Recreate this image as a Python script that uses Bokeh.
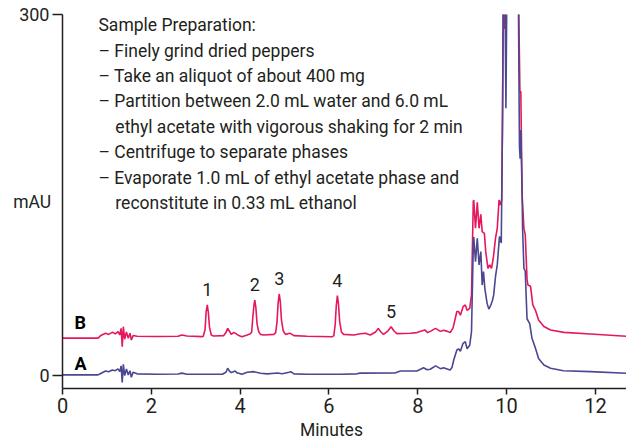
from bokeh.plotting import figure
from bokeh.models import Range1d, FixedTicker, Label
from bokeh.embed import file_html
from bokeh.resources import INLINE
from bokeh.core.properties import value

# Trace A (dark blue): retention time in minutes and absorbance in mAU
minutes_a = [0.00, 0.80, 0.86, 0.97, 1.04, 1.12, 1.19, 1.25, 1.29, 1.32, 1.345, 1.37,
             1.40, 1.44, 1.48, 1.52, 1.55, 1.59, 1.68, 2.13, 2.60, 2.69, 2.80, 3.60,
             3.68, 3.72, 3.76, 3.80, 3.85, 3.89, 3.93, 3.97, 4.04, 4.16, 4.31, 4.46,
             4.61, 4.84, 4.95, 5.10, 5.14, 5.21, 5.51, 6.26, 6.63, 6.70, 7.50, 7.61,
             7.98, 8.13, 8.21, 8.28, 8.40, 8.51, 8.58, 8.66, 8.73, 8.77, 8.81, 8.88,
             8.92, 8.96, 9.02, 9.07, 9.11, 9.17, 9.21, 9.25, 9.26, 9.30, 9.34, 9.38,
             9.42, 9.45, 9.48, 9.51, 9.56, 9.60, 9.64, 9.68, 9.71, 9.75, 9.79, 9.84,
             9.88, 9.905, 9.93, 9.96, 9.985, 10.01, 10.26, 10.29, 10.305, 10.32, 10.35,
             10.36, 10.39, 10.42, 10.46, 10.52, 10.57, 10.65, 10.72, 10.84, 10.99,
             11.28, 11.89, 12.70]
mau_a = [0.3, 0.3, 1.5, 3.6, 3.0, 4.4, 3.8, 5.3, 3.0, 7.8, -6.0, 9.1,
         -0.3, 5.3, 0.3, 3.8, -1.7, 2.5, 1.2, 0.8, 1.0, 1.8, 0.9, 0.8,
         2.5, 5.8, 3.5, 2.2, 3.0, 3.6, 2.0, 1.7, 0.8, 2.5, 3.0, 1.7,
         1.2, 1.9, 1.2, 2.5, 3.0, 1.2, 0.8, 0.8, 1.2, 1.8, 2.0, 3.6,
         3.6, 6.3, 4.6, 5.0, 7.8, 5.5, 6.3, 5.3, 4.4, 6.5, 12.7, 21.0,
         22.0, 20.0, 26.6, 28.0, 22.0, 25.0, 36.4, 108.0, 115.0, 94.5, 113.9, 91.7,
         102.8, 75.0, 86.2, 72.3, 60.0, 55.0, 58.0, 62.0, 67.0, 82.0, 92.0, 115.5,
         110.0, 200.0, 340.0, 340.0, 222.0, 340.0, 340.0, 190.0, 180.0, 204.0, 150.0,
         122.0, 89.0, 86.5, 47.0, 43.0, 31.0, 22.4, 14.0, 8.6, 5.8,
         3.8, 3.0, 1.7]

# Trace B (pink): retention time in minutes and absorbance in mAU
minutes_b = [0.00, 0.80, 0.86, 0.97, 1.04, 1.12, 1.19, 1.25, 1.29, 1.32, 1.345, 1.37,
             1.40, 1.44, 1.48, 1.52, 1.55, 1.59, 1.68, 2.13, 2.60, 2.69, 2.80, 3.14,
             3.17, 3.21, 3.235, 3.26, 3.285, 3.31, 3.35, 3.40, 3.63, 3.68, 3.72, 3.77,
             3.80, 3.85, 3.89, 3.93, 3.97, 4.04, 4.16, 4.23, 4.26, 4.285, 4.31, 4.33,
             4.355, 4.38, 4.42, 4.46, 4.53, 4.76, 4.80, 4.83, 4.855, 4.88, 4.905, 4.93,
             4.97, 5.02, 5.12, 5.21, 5.51, 6.07, 6.11, 6.14, 6.165, 6.19, 6.215, 6.24,
             6.28, 6.33, 6.56, 6.71, 6.82, 6.93, 7.05, 7.11, 7.17, 7.23, 7.33, 7.40,
             7.46, 7.53, 7.83, 7.98, 8.16, 8.22, 8.28, 8.40, 8.51, 8.58, 8.67, 8.73,
             8.79, 8.81, 8.88, 8.92, 8.96, 9.02, 9.07, 9.11, 9.17, 9.21, 9.25, 9.26,
             9.30, 9.34, 9.38, 9.42, 9.45, 9.50, 9.53, 9.58, 9.62, 9.66, 9.70, 9.75,
             9.79, 9.83, 9.86, 9.89, 9.91, 9.93, 9.95, 9.96, 9.97, 10.26, 10.30, 10.32,
             10.35, 10.39, 10.42, 10.46, 10.48, 10.54, 10.59, 10.65, 10.72, 10.84,
             10.99, 11.29, 11.89, 12.70]
mau_b = [30.9, 30.9, 33.0, 34.9, 34.0, 35.7, 34.5, 36.3, 33.5, 39.0, 23.8, 40.4,
         30.0, 36.0, 30.7, 35.0, 29.3, 33.0, 32.4, 32.2, 32.4, 33.5, 32.6, 32.1,
         32.5, 38.0, 53.0, 58.5, 52.0, 40.0, 33.5, 32.7, 33.0, 35.5, 39.0, 36.0,
         34.0, 35.5, 35.0, 34.0, 33.0, 32.0, 33.5, 34.5, 36.0, 48.0, 58.0, 62.6,
         56.0, 43.0, 36.0, 34.0, 33.5, 34.0, 35.5, 44.0, 60.0, 67.6, 61.0, 46.0,
         37.0, 34.0, 35.0, 33.0, 32.4, 32.0, 33.0, 42.0, 58.0, 66.2, 59.0, 45.0,
         36.0, 34.0, 33.5, 34.5, 35.0, 33.5, 36.0, 39.0, 36.0, 34.0, 37.0, 40.3,
         37.0, 34.6, 35.0, 35.5, 37.7, 35.5, 36.5, 39.0, 36.5, 37.5, 36.5, 35.6,
         39.0, 41.8, 53.0, 53.0, 50.0, 57.0, 58.5, 54.0, 55.7, 66.8, 144.6, 145.7,
         122.2, 143.8, 122.2, 133.8, 119.4, 118.0, 102.8, 88.9, 91.7, 88.9, 97.3, 113.9,
         122.2, 145.7, 141.6, 145.7, 220.0, 340.0, 340.0, 288.0, 340.0, 340.0, 236.0, 236.0,
         150.0, 122.0, 117.0, 80.0, 75.0, 74.0, 58.5, 54.0, 46.0, 40.5,
         37.7, 35.7, 34.3, 32.4]

# Numbered peaks on trace B
peak_numbers = ["1", "2", "3", "4", "5"]
peak_minutes = [3.26, 4.33, 4.88, 6.19, 7.40]
peak_mau = [58.5, 62.6, 67.6, 66.2, 40.3]

x_ticks = [0, 2, 4, 6, 8, 10, 12]
y_ticks = [0, 300]

prep_lines = [
    "Sample Preparation:",
    "\u2013 Finely grind dried peppers",
    "\u2013 Take an aliquot of about 400 mg",
    "\u2013 Partition between 2.0 mL water and 6.0 mL",
    "ethyl acetate with vigorous shaking for 2 min",
    "\u2013 Centrifuge to separate phases",
    "\u2013 Evaporate 1.0 mL of ethyl acetate phase and",
    "reconstitute in 0.33 mL ethanol",
]

FONT = "Roboto"
INK = "#231f20"
PINK = "#e5185d"
BLUE = "#4a4890"

p = figure(width=626, height=442, output_backend="svg", toolbar_location=None,
           title=None,
           x_range=Range1d(0, 12.7), y_range=Range1d(-11, 300),
           min_border_left=62, min_border_right=0,
           min_border_top=14, min_border_bottom=52)
p.xgrid.visible = False
p.ygrid.visible = False
p.outline_line_color = None
p.background_fill_color = "white"
p.border_fill_color = "white"

for ax in (p.xaxis[0], p.yaxis[0]):
    ax.axis_line_color = INK
    ax.axis_line_width = 1.5
    ax.major_tick_line_color = INK
    ax.major_tick_line_width = 1.5
    ax.major_tick_in = 0
    ax.minor_tick_line_color = None
    ax.major_label_text_font = FONT
    ax.major_label_text_color = INK
    ax.axis_label_text_font = FONT
    ax.axis_label_text_font_style = "normal"
    ax.axis_label_text_color = INK
    ax.axis_label_text_font_size = "17.5px"

p.xaxis.ticker = FixedTicker(ticks=x_ticks)
p.xaxis.major_tick_out = 6
p.xaxis.major_label_standoff = 3
p.xaxis.major_label_text_font_size = "20px"
# trailing no-break spaces pull the centred title slightly left
p.xaxis.axis_label = "Minutes" + "\u00a0" * 6
p.xaxis.axis_label_standoff = 4

p.yaxis.ticker = FixedTicker(ticks=y_ticks)
p.yaxis.major_tick_out = 10
p.yaxis.major_label_standoff = 3
p.yaxis.major_label_text_font_size = "18px"
p.yaxis.axis_label = "mAU"
p.yaxis.axis_label_orientation = "horizontal"
p.yaxis.axis_label_standoff = -35

# chromatograms
p.line(minutes_b, mau_b, line_color=PINK, line_width=1.6)
p.line(minutes_a, mau_a, line_color=BLUE, line_width=1.6)

# peak numbers above trace B
p.text(x=peak_minutes, y=peak_mau, text=peak_numbers, text_align="center",
       text_baseline="alphabetic", y_offset=-15,
       text_font=value(FONT), text_font_size=value("18px"), text_color=INK)

# trace names
for name, yv in (("B", 44.2), ("A", 10.0)):
    p.add_layout(Label(x=0.27, y=yv, text=name, text_font=FONT,
                       text_font_size="18px", text_font_style="bold",
                       text_color="black", text_baseline="alphabetic"))

# sample preparation notes
for i, line in enumerate(prep_lines):
    xv = 0.81 if (i == 0 or line.startswith("\u2013")) else 1.19
    p.add_layout(Label(x=xv, y=291.2 - 21.15 * i, text=line, text_font=FONT,
                       text_font_size="17.5px", text_color=INK,
                       text_baseline="alphabetic"))

open("out.html", "w").write(file_html(p, INLINE))
